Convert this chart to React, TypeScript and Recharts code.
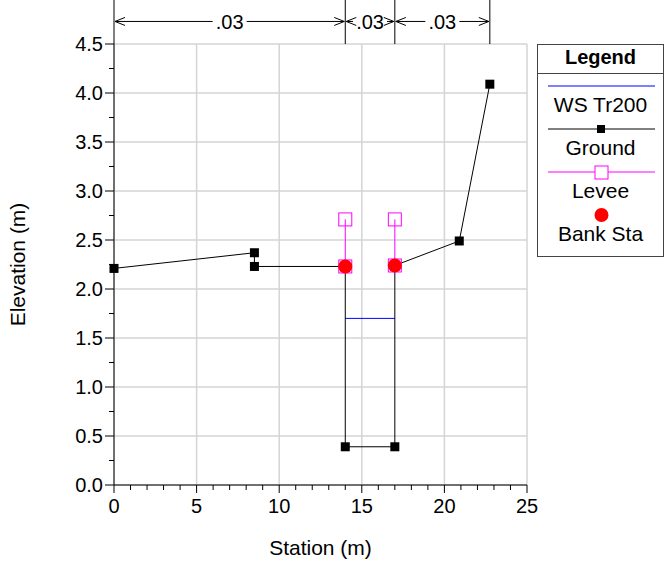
import React from 'react';
import { ComposedChart, Line, XAxis, YAxis, CartesianGrid, ReferenceLine, Legend } from 'recharts';

const FONT = '"Liberation Sans", Arial, Helvetica, sans-serif';

// cross section data
const groundStation = [0, 8.5, 8.5, 14, 14, 17, 17, 20.9, 22.75];
const groundElev = [2.21, 2.37, 2.23, 2.23, 0.39, 0.39, 2.24, 2.49, 4.09];

const wsStation = [14, 17];
const wsElev = [1.7, 1.7];

const leveeLeftStation = [14, 14];
const leveeLeftElev = [2.23, 2.71];
const leveeRightStation = [17, 17];
const leveeRightElev = [2.24, 2.71];

const bankStation = [14, 17];
const bankElev = [2.23, 2.24];

// manning's n breaks
const nStations = [0, 14, 17, 22.75];
const nValues = ['.03', '.03', '.03'];

const legendOrder = ['WS Tr200', 'Ground', 'Levee', 'Bank Sta'];

const xTicks = Array.from({ length: 26 }, (_, i) => i);
const xGrid = [0, 5, 10, 15, 20, 25];
const yTicks = Array.from({ length: 19 }, (_, i) => i * 0.25);
const yGrid = [0, 0.5, 1, 1.5, 2, 2.5, 3, 3.5, 4, 4.5];

const NARROW_Y = 4.73;
const TOP_Y = 5.1;

const toRows = (xs: number[], ys: number[]) => xs.map((x, i) => ({ x, y: ys[i] }));

const groundData = toRows(groundStation, groundElev);
const wsData = toRows(wsStation, wsElev);
const leveeLeft = toRows(leveeLeftStation, leveeLeftElev);
const leveeRight = toRows(leveeRightStation, leveeRightElev);
const bankData = toRows(bankStation, bankElev);

const groundDot = (p: any) => (
  <rect key={`g-${p.index}`} x={p.cx - 4.5} y={p.cy - 4.5} width={9} height={9} fill="#000" />
);
const leveeDot = (p: any) => (
  <rect key={`l-${p.cx}-${p.index}`} x={p.cx - 6.5} y={p.cy - 6.5} width={13} height={13} fill="none" stroke="#ff00ff" strokeWidth={1} />
);
const bankDot = (p: any) => (
  <circle key={`b-${p.index}`} cx={p.cx} cy={p.cy} r={7} fill="#ff0000" />
);

const YTick = ({ x, y, payload }: any) => {
  const v = payload.value;
  const major = Math.abs(v * 2 - Math.round(v * 2)) < 1e-6;
  return (
    <g>
      <line x1={x - (major ? 9 : 5)} x2={x} y1={y} y2={y} stroke="#000" />
      {major && (
        <text x={x - 11} y={y} dy="0.36em" textAnchor="end" fontSize={20} fontFamily={FONT} fill="#000">
          {v.toFixed(1)}
        </text>
      )}
    </g>
  );
};

const XTick = ({ x, y, payload }: any) => {
  const v = payload.value;
  const major = v % 5 === 0;
  return (
    <g>
      <line x1={x} x2={x} y1={y} y2={y + (major ? 8 : 5)} stroke="#000" />
      {major && (
        <text x={x} y={y + 28} textAnchor="middle" fontSize={20} fontFamily={FONT} fill="#000">
          {v}
        </text>
      )}
    </g>
  );
};

const nArrow = (label: string) => (p: any) => {
  const { x1, x2, y1 } = p;
  const mid = (x1 + x2) / 2;
  const gap = 17;
  const a = x1 + 1;
  const b = x2 - 1;
  return (
    <g>
      <line x1={a} x2={mid - gap} y1={y1} y2={y1} stroke="#000" />
      <line x1={mid + gap} x2={b} y1={y1} y2={y1} stroke="#000" />
      <polyline points={`${a + 10},${y1 - 4} ${a},${y1} ${a + 10},${y1 + 4}`} fill="none" stroke="#000" />
      <polyline points={`${b - 10},${y1 - 4} ${b},${y1} ${b - 10},${y1 + 4}`} fill="none" stroke="#000" />
      <text x={mid} y={y1} dy="0.36em" textAnchor="middle" fontSize={20} fontFamily={FONT} fill="#000">
        {label}
      </text>
    </g>
  );
};

const legendIcon = (name: string) => {
  if (name === 'WS Tr200') return <line x1={10} x2={117} y1={12} y2={12} stroke="#0000ff" />;
  if (name === 'Ground')
    return (
      <g>
        <line x1={10} x2={117} y1={12} y2={12} stroke="#000" />
        <rect x={59} y={8} width={8} height={8} fill="#000" />
      </g>
    );
  if (name === 'Levee')
    return (
      <g>
        <line x1={10} x2={117} y1={12} y2={12} stroke="#ff00ff" />
        <rect x={57} y={6} width={13} height={13} fill="#fff" stroke="#ff00ff" />
      </g>
    );
  return <circle cx={63.5} cy={12} r={7} fill="#ff0000" />;
};

const LegendBox = ({ payload }: any) => {
  const names = new Set((payload || []).map((e: any) => e.value));
  const items = legendOrder.filter((n) => names.has(n));
  return (
    <div style={{ width: 125, border: '1px solid #444', background: '#fff', fontFamily: FONT, color: '#000' }}>
      <div style={{ height: 28, lineHeight: '25px', textAlign: 'center', fontWeight: 'bold', fontSize: 20, borderBottom: '1px solid #444' }}>
        Legend
      </div>
      {items.map((name) => (
        <div key={name}>
          <svg width={125} height={23} style={{ display: 'block' }}>
            {legendIcon(name)}
          </svg>
          <div style={{ textAlign: 'center', fontSize: 21, lineHeight: '16px', height: 20 }}>{name}</div>
        </div>
      ))}
      <div style={{ height: 10 }} />
    </div>
  );
};

export default function App() {
  return (
    <div style={{ position: 'absolute', left: 0, top: 0, background: '#fff' }}>
      <ComposedChart width={664} height={562} margin={{ top: 44, right: 137, bottom: 0, left: 0 }}>
        <CartesianGrid stroke="#d4d4d4" strokeWidth={1.5} verticalValues={xGrid} horizontalValues={yGrid} />
        <XAxis
          dataKey="x"
          type="number"
          domain={[0, 25]}
          ticks={xTicks}
          interval={0}
          tickSize={0}
          tickMargin={0}
          tick={<XTick />}
          height={77}
          axisLine={{ stroke: '#000' }}
          tickLine={false}
          label={{ value: 'Station (m)', position: 'insideBottom', offset: 7, fontSize: 21, fontFamily: FONT, fill: '#000' }}
        />
        <YAxis
          dataKey="y"
          type="number"
          domain={[0, 4.5]}
          ticks={yTicks}
          interval={0}
          tickSize={0}
          tickMargin={0}
          tick={<YTick />}
          width={114}
          axisLine={{ stroke: '#000' }}
          tickLine={false}
          label={{
            value: 'Elevation (m)',
            angle: -90,
            position: 'insideLeft',
            offset: 18,
            fontSize: 21,
            fontFamily: FONT,
            fill: '#000',
            style: { textAnchor: 'middle' },
          }}
        />
        {nStations.map((s) => (
          <ReferenceLine
            key={`nv-${s}`}
            segment={[{ x: s, y: 4.5 }, { x: s, y: TOP_Y }]}
            stroke="#000"
            ifOverflow="visible"
          />
        ))}
        {nValues.map((n, i) => (
          <ReferenceLine
            key={`na-${i}`}
            segment={[{ x: nStations[i], y: NARROW_Y }, { x: nStations[i + 1], y: NARROW_Y }]}
            ifOverflow="visible"
            shape={nArrow(n)}
          />
        ))}
        <Line data={wsData} dataKey="y" name="WS Tr200" type="linear" stroke="#0000ff" strokeWidth={1} dot={false} isAnimationActive={false} />
        <Line data={groundData} dataKey="y" name="Ground" type="linear" stroke="#000" strokeWidth={1} dot={groundDot} activeDot={false} isAnimationActive={false} />
        <Line data={leveeLeft} dataKey="y" name="Levee" type="linear" stroke="#ff00ff" strokeWidth={1} dot={leveeDot} activeDot={false} isAnimationActive={false} />
        <Line data={leveeRight} dataKey="y" name="Levee" legendType="none" type="linear" stroke="#ff00ff" strokeWidth={1} dot={leveeDot} activeDot={false} isAnimationActive={false} />
        <Line data={bankData} dataKey="y" name="Bank Sta" type="linear" stroke="none" dot={bankDot} activeDot={false} isAnimationActive={false} />
        <Legend
          layout="vertical"
          align="center"
          verticalAlign="middle"
          content={<LegendBox />}
          wrapperStyle={{ left: 537, top: 44, width: 127 }}
        />
      </ComposedChart>
    </div>
  );
}
